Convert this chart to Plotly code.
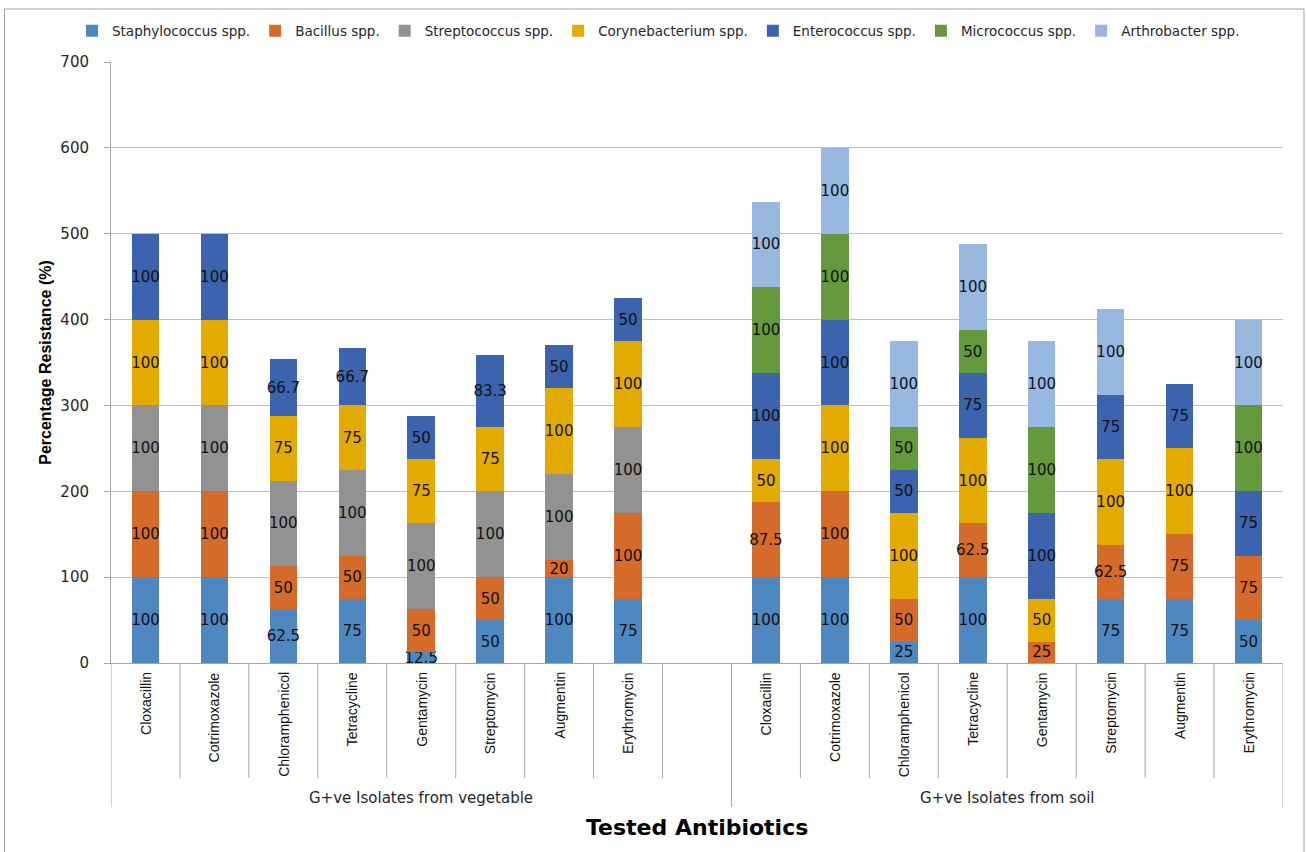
import plotly.graph_objects as go

# ---------------- data ----------------
veg_antibiotics = ["Cloxacillin", "Cotrimoxazole", "Chloramphenicol", "Tetracycline",
                   "Gentamycin", "Streptomycin", "Augmentin", "Erythromycin"]
soil_antibiotics = ["Cloxacillin", "Cotrimoxazole", "Chloramphenicol", "Tetracycline",
                    "Gentamycin", "Streptomycin", "Augmentin", "Erythromycin"]
group_labels = ["G+ve Isolates from vegetable", "G+ve Isolates from soil"]

series_names = ["Staphylococcus spp.", "Bacillus spp.", "Streptococcus spp.",
                "Corynebacterium spp.", "Enterococcus spp.", "Micrococcus spp.",
                "Arthrobacter spp."]

# vegetable isolates (8 antibiotics)
veg_staph = [100, 100, 62.5, 75, 12.5, 50, 100, 75]
veg_bacillus = [100, 100, 50, 50, 50, 50, 20, 100]
veg_strep = [100, 100, 100, 100, 100, 100, 100, 100]
veg_coryne = [100, 100, 75, 75, 75, 75, 100, 100]
veg_entero = [100, 100, 66.7, 66.7, 50, 83.3, 50, 50]
veg_micro = [0, 0, 0, 0, 0, 0, 0, 0]
veg_arthro = [0, 0, 0, 0, 0, 0, 0, 0]

# soil isolates (8 antibiotics)
soil_staph = [100, 100, 25, 100, 0, 75, 75, 50]
soil_bacillus = [87.5, 100, 50, 62.5, 25, 62.5, 75, 75]
soil_strep = [0, 0, 0, 0, 0, 0, 0, 0]
soil_coryne = [50, 100, 100, 100, 50, 100, 100, 0]
soil_entero = [100, 100, 50, 75, 100, 75, 75, 75]
soil_micro = [100, 100, 50, 50, 100, 0, 0, 100]
soil_arthro = [100, 100, 100, 100, 100, 100, 0, 100]

colors = ["#4F87C0", "#D46B2B", "#929292", "#E3AA00", "#3C63AE", "#649A3D", "#97B9E0"]

veg_series = [veg_staph, veg_bacillus, veg_strep, veg_coryne, veg_entero, veg_micro, veg_arthro]
soil_series = [soil_staph, soil_bacillus, soil_strep, soil_coryne, soil_entero, soil_micro, soil_arthro]

# slot positions: 8 vegetable, one empty slot, 8 soil
n_veg = len(veg_antibiotics)
x_veg = list(range(n_veg))
x_soil = [n_veg + 1 + i for i in range(len(soil_antibiotics))]
x_all = x_veg + x_soil
labels_all = veg_antibiotics + soil_antibiotics
n_slots = n_veg + 1 + len(soil_antibiotics)

LINE = "#A6A6A6"
FONT = "DejaVu Sans"

fig = go.Figure()
for name, col, v, s in zip(series_names, colors, veg_series, soil_series):
    vals = v + s
    texts = ["" if val == 0 else ("%g" % val) for val in vals]
    fig.add_trace(go.Bar(
        x=x_all, y=vals, name=name, width=0.4,
        marker=dict(color=col, line=dict(width=0)),
        text=texts, textposition="inside", insidetextanchor="middle",
        textangle=0, constraintext="none",
        insidetextfont=dict(family=FONT, size=15, color="#111111"),
        cliponaxis=False,
    ))

shapes = []
# category separators below the axis
for k in range(n_slots + 1):
    long_line = k in (0, n_veg + 1, n_slots)
    shapes.append(dict(type="line", xref="x", yref="paper",
                       x0=k - 0.5, x1=k - 0.5, y0=0,
                       y1=-0.2396 if long_line else -0.1914,
                       line=dict(color=LINE, width=1)))
# outer chart border
shapes.append(dict(type="rect", xref="paper", yref="paper",
                   x0=-0.0909, x1=1.0179, y0=-0.35, y1=1.0882,
                   line=dict(color="#A0A0A0", width=1), fillcolor="rgba(0,0,0,0)"))

annotations = []
for xv, lab in zip(x_all, labels_all):
    annotations.append(dict(x=xv, y=0, xref="x", yref="paper", text=lab,
                            textangle=-90, showarrow=False, xanchor="center",
                            yanchor="top", yshift=-7,
                            font=dict(family="Liberation Sans", size=14, color="#111111")))
annotations.append(dict(x=(0 + n_veg) / 2, y=-0.2246, xref="x", yref="paper",
                        text=group_labels[0], showarrow=False, yanchor="middle",
                        font=dict(family=FONT, size=15, color="#262626")))
annotations.append(dict(x=(x_soil[0] + x_soil[-1]) / 2, y=-0.2246, xref="x", yref="paper",
                        text=group_labels[1], showarrow=False, yanchor="middle",
                        font=dict(family=FONT, size=15, color="#262626")))
annotations.append(dict(x=0.5, y=-0.273, xref="paper", yref="paper",
                        text="<b>Tested Antibiotics</b>", showarrow=False, yanchor="middle",
                        font=dict(family=FONT, size=22, color="#000000")))

fig.update_layout(
    width=1306, height=852,
    margin=dict(l=111, r=23, t=62, b=189, autoexpand=False),
    barmode="stack",
    paper_bgcolor="white", plot_bgcolor="white",
    font=dict(family=FONT, color="#262626"),
    legend=dict(orientation="h", xref="container", yref="container",
                x=72 / 1306, xanchor="left", y=1 - 31 / 852, yanchor="middle",
                font=dict(family=FONT, size=13.5, color="#262626"),
                traceorder="normal", itemwidth=30),
    xaxis=dict(range=[-0.5, n_slots - 0.5], showticklabels=False, showgrid=False,
               zeroline=False, showline=True, linecolor=LINE, ticks=""),
    yaxis=dict(range=[0, 700], dtick=100, showgrid=True, gridcolor="#BFBFBF",
               zeroline=False, showline=True, linecolor=LINE, ticks="outside",
               ticklen=6, tickcolor=LINE, ticklabelstandoff=12,
               tickfont=dict(family=FONT, size=15, color="#262626"),
               title=dict(text="<b>Percentage Resistance (%)</b>", standoff=4,
                          font=dict(family="Liberation Sans", size=16, color="#000000"))),
    shapes=shapes, annotations=annotations,
)

fig.write_html("out.html")
